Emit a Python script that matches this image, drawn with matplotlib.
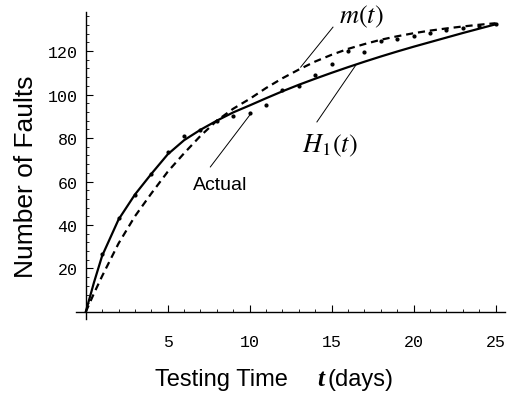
import numpy as np
import matplotlib
matplotlib.use('Agg')
import matplotlib.pyplot as plt
from matplotlib.ticker import MultipleLocator, FixedLocator

plt.rcParams['mathtext.fontset'] = 'stix'

# observed cumulative faults per day
actual_days = [1, 2, 3, 4, 5, 6, 7, 8, 9, 10, 11, 12, 13,
               14, 15, 16, 17, 18, 19, 20, 21, 22, 23, 24, 25]
actual_faults = [26.8, 43.1, 53.6, 63.6, 73.8, 80.8, 83.5, 87.7, 90.3, 91.5, 95.2, 102.2, 103.7,
                 108.8, 114.2, 120.0, 119.7, 124.5, 125.5, 127.0, 128.5, 129.5, 130.5, 131.5, 132.5]

# fitted curves
curve_t = [0, 0.5, 1, 2, 3, 4, 5, 6, 7, 8, 9, 10, 11, 12, 13,
           14, 15, 16, 17, 18, 19, 20, 21, 22, 23, 24, 25]
h1_vals = [0, 13.5, 25.8, 42.5, 54.0, 63.5, 72.5, 79.0, 83.8, 88.0, 91.8, 95.0, 98.3, 101.5, 104.5,
           107.3, 110.0, 112.6, 115.1, 117.5, 119.8, 122.0, 124.1, 126.2, 128.3, 130.3, 132.3]
m_vals = [0, 8.5, 16.5, 31.5, 44.0, 54.5, 64.5, 73.0, 81.0, 88.0, 93.5, 98.0, 103.0, 107.5, 111.5,
          115.2, 118.3, 121.0, 123.2, 125.2, 126.8, 128.2, 129.4, 130.4, 131.3, 132.1, 132.8]

x_major = [5, 10, 15, 20, 25]
y_major = [20, 40, 60, 80, 100, 120]

f = plt.figure(figsize=(5.11, 4.02), dpi=100)
ax = f.add_axes([0.1485, 0.2052, 0.9892 - 0.1485, 0.9679 - 0.2052])

ax.plot(curve_t, h1_vals, 'k-', lw=1.6, solid_capstyle='round')
ax.plot(curve_t, m_vals, 'k--', lw=1.6, dashes=(3.2, 2.2))
ax.plot(actual_days, actual_faults, 'k.', ms=4)

ax.set_xlim(-0.6, 25.6)
ax.set_ylim(-3, 138)
ax.spines['left'].set_position(('data', 0))
ax.spines['bottom'].set_position(('data', 0))
ax.spines['top'].set_visible(False)
ax.spines['right'].set_visible(False)
ax.spines['left'].set_linewidth(1.0)
ax.spines['bottom'].set_linewidth(1.0)

ax.xaxis.set_major_locator(FixedLocator(x_major))
ax.xaxis.set_minor_locator(MultipleLocator(1))
ax.yaxis.set_major_locator(FixedLocator(y_major))
ax.yaxis.set_minor_locator(MultipleLocator(4))
ax.tick_params(which='major', direction='in', length=5, width=0.8)
ax.tick_params(which='minor', direction='in', length=2.5, width=0.6)
ax.tick_params(axis='x', which='major', pad=16)
ax.tick_params(axis='y', which='major', pad=6)
for lab in ax.get_xticklabels() + ax.get_yticklabels():
    lab.set_family('Liberation Mono')
    lab.set_fontsize(12)

# labels on curves
ax.text(8.2, 58.4, 'Actual', fontsize=14, family='Liberation Sans', ha='center', va='center')
ax.plot([7.6, 10.1], [66.7, 91.5], 'k-', lw=0.7)

ax.text(16.8, 136.0, r'$m(t)$', fontsize=19, ha='center', va='center')
ax.plot([15.08, 13.11], [131.0, 112.6], 'k-', lw=0.7)

ax.text(14.9, 76.8, r'$H\mathrm{_1}(t)$', fontsize=19, ha='center', va='center')
ax.plot([14.1, 16.48], [87.4, 113.6], 'k-', lw=0.7)

# axis titles
f.text(26 / 511, 1 - 177 / 402, 'Number of Faults', rotation=90, fontsize=19,
       family='Liberation Sans', ha='center', va='center')
f.text(155 / 511, 1 - 380 / 402, 'Testing Time', fontsize=17,
       family='Liberation Sans', ha='left', va='center')
f.text(317 / 511, 1 - 380 / 402, 't', fontsize=18, family='Liberation Serif',
       style='italic', weight='bold', ha='left', va='center')
f.text(327 / 511, 1 - 380 / 402, '(days)', fontsize=17,
       family='Liberation Sans', ha='left', va='center')

plt.savefig('out.png', dpi=100)
